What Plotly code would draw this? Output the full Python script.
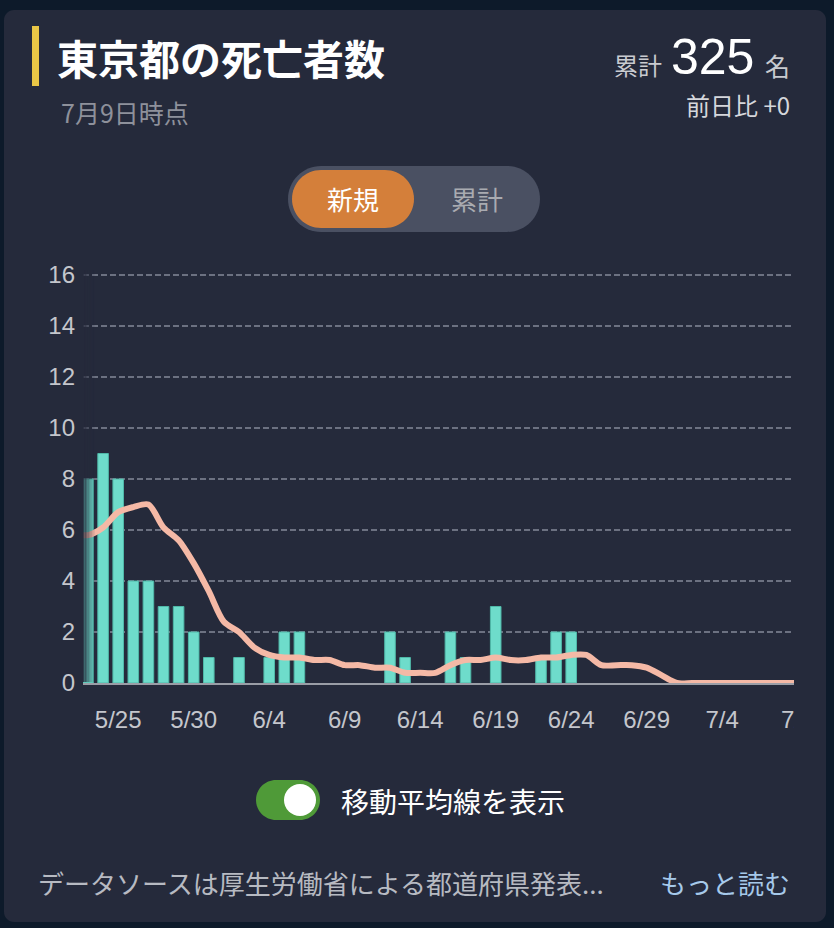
import plotly.graph_objects as go
import pandas as pd

# ---------------- data ----------------
bar_dates = ["2020-05-23", "2020-05-24", "2020-05-25", "2020-05-26", "2020-05-27", "2020-05-28",
             "2020-05-29", "2020-05-30", "2020-05-31", "2020-06-01", "2020-06-02", "2020-06-03",
             "2020-06-04", "2020-06-05", "2020-06-06", "2020-06-07", "2020-06-08", "2020-06-09",
             "2020-06-10", "2020-06-11", "2020-06-12", "2020-06-13", "2020-06-14", "2020-06-15",
             "2020-06-16", "2020-06-17", "2020-06-18", "2020-06-19", "2020-06-20", "2020-06-21",
             "2020-06-22", "2020-06-23", "2020-06-24", "2020-06-25", "2020-06-26", "2020-06-27",
             "2020-06-28", "2020-06-29", "2020-06-30", "2020-07-01", "2020-07-02", "2020-07-03",
             "2020-07-04", "2020-07-05", "2020-07-06", "2020-07-07", "2020-07-08", "2020-07-09"]
new_deaths = [8, 9, 8, 4, 4, 3,
              3, 2, 1, 0, 1, 0,
              1, 2, 2, 0, 0, 0,
              0, 0, 2, 1, 0, 0,
              2, 1, 0, 3, 0, 0,
              1, 2, 2, 0, 0, 0,
              0, 0, 0, 0, 0, 0,
              0, 0, 0, 0, 0, 0]

ma_dates = ["2020-05-22"] + bar_dates
moving_avg = [5.85, 5.8, 6.1, 6.7, 6.9, 7.0, 6.1,
              5.6, 4.7, 3.6, 2.4, 2.0, 1.4,
              1.1, 1.0, 1.0, 0.9, 0.9, 0.7,
              0.7, 0.6, 0.6, 0.4, 0.4, 0.4,
              0.7, 0.9, 0.9, 1.0, 0.9, 0.9,
              1.0, 1.0, 1.1, 1.1, 0.7, 0.7,
              0.7, 0.6, 0.3, 0.0, 0.0, 0.0,
              0.0, 0.0, 0.0, 0.0, 0.0, 0.0]

tick_dates = ["2020-05-25", "2020-05-30", "2020-06-04", "2020-06-09", "2020-06-14",
              "2020-06-19", "2020-06-24", "2020-06-29", "2020-07-04", "2020-07-09"]
tick_labels = ["5/25", "5/30", "6/4", "6/9", "6/14", "6/19", "6/24", "6/29", "7/4", "7/9"]
y_ticks = [0, 2, 4, 6, 8, 10, 12, 14, 16]

# ---------------- geometry helpers ----------------
W, H = 834, 928
def px(x):
    return x / W
def py(y):
    return 1 - y / H

# visible (scroll) window of the chart, in pixels
PLOT_L, VIEW_R, PLOT_T, PLOT_B = 83, 794, 275, 683
DOMAIN_R = 812            # axis extends a bit further, then is clipped by a cover
FIRST_CENTER = 88         # pixel centre of the first bar
DAY_PX = 15.1             # pixels per day
Y_TOP = 16.05
UNIT_PX = (PLOT_B - PLOT_T) / 16.0

first_day = pd.Timestamp(bar_dates[0])
x_left = first_day - pd.Timedelta(days=(FIRST_CENTER - PLOT_L) / DAY_PX)
x_right = first_day + pd.Timedelta(days=(DOMAIN_R - FIRST_CENTER) / DAY_PX)

CJK = "Noto Sans CJK JP"
LAT = "Liberation Sans"
CARD = "#252a3b"

def rrect(x0, y0, x1, y1, r):
    k = 0.5523 * r
    pts = [
        f"M{px(x0 + r)},{py(y0)}",
        f"L{px(x1 - r)},{py(y0)}",
        f"C{px(x1 - r + k)},{py(y0)} {px(x1)},{py(y0 + r - k)} {px(x1)},{py(y0 + r)}",
        f"L{px(x1)},{py(y1 - r)}",
        f"C{px(x1)},{py(y1 - r + k)} {px(x1 - r + k)},{py(y1)} {px(x1 - r)},{py(y1)}",
        f"L{px(x0 + r)},{py(y1)}",
        f"C{px(x0 + r - k)},{py(y1)} {px(x0)},{py(y1 - r + k)} {px(x0)},{py(y1 - r)}",
        f"L{px(x0)},{py(y0 + r)}",
        f"C{px(x0)},{py(y0 + r - k)} {px(x0 + r - k)},{py(y0)} {px(x0 + r)},{py(y0)}",
        "Z",
    ]
    return " ".join(pts)

shapes = []
def add_path(path, color, layer="below"):
    shapes.append(dict(type="path", path=path, xref="paper", yref="paper",
                       fillcolor=color, line=dict(width=0), layer=layer))

def add_rect(x0, y0, x1, y1, color, layer="below", opacity=1.0):
    shapes.append(dict(type="rect", xref="paper", yref="paper",
                       x0=px(x0), x1=px(x1), y0=py(y1), y1=py(y0),
                       fillcolor=color, line=dict(width=0), layer=layer, opacity=opacity))

# card
add_path(rrect(4, 10, 826, 922, 10), CARD)
# yellow accent bar
add_rect(32, 26, 39, 86, "#e9c646")
# segmented toggle
add_path(rrect(288, 166, 540, 232, 33), "#4a5062")
add_path(rrect(292, 170, 414, 228, 29), "#d47f3a")
# switch
add_path(rrect(256, 780, 320, 820, 20), "#4f9a38")
shapes.append(dict(type="circle", xref="paper", yref="paper",
                   x0=px(284), x1=px(316), y0=py(816), y1=py(784),
                   fillcolor="#ffffff", line=dict(width=0), layer="below"))

# left fade over the start of the scroll area
fade_steps = [0.88, 0.75, 0.62, 0.5, 0.38, 0.27, 0.17, 0.08]
for i, op in enumerate(fade_steps):
    add_rect(PLOT_L + i * 1.5, PLOT_T - 5, PLOT_L + (i + 1) * 1.5, PLOT_B - 1, CARD, layer="above", opacity=op)
# clip everything right of the scroll window
add_rect(VIEW_R, PLOT_T - 10, 825, 745, CARD, layer="above")

# ---------------- traces ----------------
fig = go.Figure()
fig.add_trace(go.Bar(
    x=bar_dates, y=new_deaths,
    marker=dict(color="#6edccb",
                line=dict(color="#4fb8a8", width=[1 if v > 0 else 0 for v in new_deaths])),
    hoverinfo="skip", showlegend=False,
))
fig.add_trace(go.Scatter(
    x=ma_dates, y=moving_avg, mode="lines",
    line=dict(color="#f5b9a6", width=6, shape="spline", smoothing=0.8),
    hoverinfo="skip", showlegend=False,
))

# ---------------- annotations ----------------
ann = []
def text(x, y, s, size, color, anchor="left", family=CJK):
    ann.append(dict(x=px(x), y=py(y), xref="paper", yref="paper", text=s, showarrow=False,
                    xanchor=anchor, yanchor="middle",
                    font=dict(family=family, size=size, color=color)))

text(55, 57, "<b>東京都の死亡者数</b>", 41, "#ffffff")
text(59, 112, "7月9日時点", 25, "#8e919b")
text(664, 65, "累計", 24, "#c9cbd0", anchor="right")
text(669, 57, "325", 50, "#ffffff", anchor="left", family=LAT)
text(792, 65, "名", 25, "#c9cbd0", anchor="right")
text(792, 105, "前日比 +0", 24, "#d5d7dc", anchor="right")
text(353, 198, "新規", 26, "#ffffff", anchor="center")
text(477, 198, "累計", 26, "#a9abb1", anchor="center")
text(339, 801, "移動平均線を表示", 28, "#ffffff")
text(36, 882, "データソースは厚生労働省による都道府県発表...", 26, "#b7bac2")
text(792, 882, "もっと読む", 26, "#a6c9ea", anchor="right")

fig.update_layout(
    width=W, height=H,
    margin=dict(l=0, r=0, t=0, b=0, pad=0, autoexpand=False),
    paper_bgcolor="#0d1a2a",
    plot_bgcolor="rgba(0,0,0,0)",
    bargap=0.3,
    shapes=shapes,
    annotations=ann,
    xaxis=dict(
        type="date",
        domain=[px(PLOT_L), px(DOMAIN_R)],
        range=[x_left.strftime("%Y-%m-%d %H:%M:%S"), x_right.strftime("%Y-%m-%d %H:%M:%S")],
        tickvals=tick_dates, ticktext=tick_labels,
        showgrid=False, zeroline=False,
        showline=True, linecolor="#9a9da6", linewidth=2,
        ticks="", ticklabelstandoff=14, automargin=False,
        tickfont=dict(family=LAT, size=24, color="#c4c6cc"),
        fixedrange=True,
    ),
    yaxis=dict(
        domain=[py(PLOT_B), py(PLOT_T - (Y_TOP - 16) * UNIT_PX)],
        range=[0, Y_TOP],
        tickvals=y_ticks,
        showgrid=True, gridcolor="#6c7181", gridwidth=1.5, griddash="6px,3px",
        zeroline=False, showline=False, ticks="", ticklabelstandoff=7, automargin=False,
        tickfont=dict(family=LAT, size=24, color="#c4c6cc"),
        fixedrange=True,
    ),
)

fig.write_html("out.html")
